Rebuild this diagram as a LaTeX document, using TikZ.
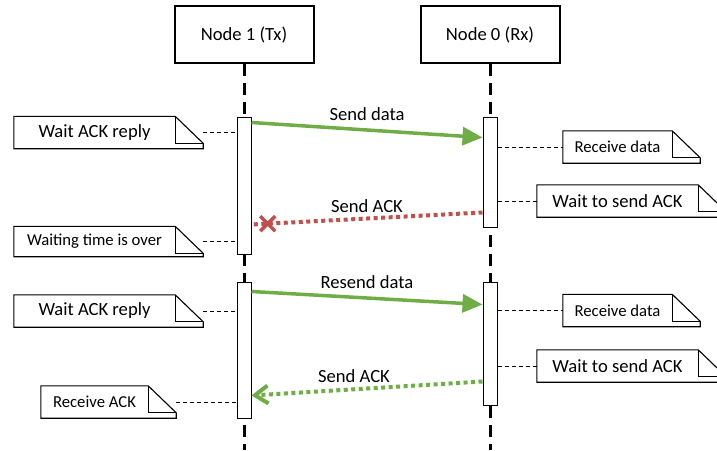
\documentclass[tikz,border=0pt]{standalone}
\usepackage{fontspec}
\setmainfont{Carlito}
\usetikzlibrary{arrows.meta, calc}
\definecolor{okgreen}{RGB}{112,173,71}
\definecolor{lostred}{RGB}{192,80,77}
\newcommand{\bigtxt}{\fontsize{18.6}{22}\selectfont}
\newcommand{\smalltxt}{\fontsize{16.7}{20}\selectfont}
\begin{document}
\begin{tikzpicture}[x=1pt, y=-1pt,
actor/.style={draw, line width=2, minimum width=139, minimum height=57, font=\bigtxt},
bar/.style={draw, fill=white, line width=1, minimum width=14, inner sep=0},
note/.style={inner sep=0, minimum height=32, font=\bigtxt},
lifeline/.style={line width=3, dash pattern=on 12pt off 7pt},
link/.style={line width=0.9, dash pattern=on 4pt off 3pt},
msg/.style={line width=3.5},
dots/.style={line width=4, dash pattern=on 4pt off 3.5pt}]
\useasboundingbox (0,0) rectangle (717,450);
\node[actor] (tx) at (244,34.5) {Node 1 (Tx)};
\node[actor] (rx) at (490,34.5) {Node 0 (Rx)};
\coordinate (txend) at (244,450);
\coordinate (rxend) at (490,450);
\draw[lifeline] (tx.south)--(txend);
\draw[lifeline] (rx.south)--(rxend);
\node[bar, minimum height=137] (tx1) at (244,185.5) {};
\node[bar, minimum height=110] (rx1) at (490,172) {};
\node[bar, minimum height=136] (tx2) at (244,350) {};
\node[bar, minimum height=123] (rx2) at (490,343.5) {};
\node[note, minimum width=161] (wait1) at (94.5,132.5) {Wait ACK reply};
\node[note, minimum width=161, minimum height=30, font=\smalltxt] (over) at (94.5,241.5) {Waiting time is over};
\node[note, minimum width=161] (wait2) at (94.5,311) {Wait ACK reply};
\node[note, minimum width=107, font=\smalltxt] (rack) at (94.5,402) {Receive ACK};
\node[note, minimum width=109, font=\smalltxt] (recv1) at (617.5,147) {Receive data};
\node[note, minimum width=161] (wsend1) at (617.5,201) {Wait to send ACK};
\node[note, minimum width=109, font=\smalltxt] (recv2) at (617.5,310.5) {Receive data};
\node[note, minimum width=161] (wsend2) at (617.5,366) {Wait to send ACK};
\foreach \n in {wait1,over,wait2,rack,recv1,wsend1,recv2,wsend2}{
\draw[line width=1.1] (\n.south west) |- (\n.north east) -- ++(28,27) |- (\n.south west) -- cycle;
\draw[line width=1.1] (\n.north east) -- ++(0,27) -- ++(28,0);
}
\foreach \n/\b in {wait1/tx1, over/tx1, wait2/tx2, rack/tx2} \draw[link] ([xshift=28]\n.east)--(\n.east -| \b.west);
\foreach \n/\b in {recv1/rx1, wsend1/rx1, recv2/rx2, wsend2/rx2} \draw[link] (\n.west -| \b.east)--(\n.west);
\draw[msg, okgreen, -{Triangle[length=20pt, width=18pt]}] ([yshift=-6]tx1.north east)--([yshift=-21]rx1.north west)
node[midway, above=4, black, font=\bigtxt] (send1) {Send data};
\draw[dots, lostred] ([yshift=-96]rx1.north west)--([yshift=-108]tx1.north east)
node[midway, above=1, black, font=\bigtxt] (ack1) {Send ACK} coordinate[pos=0.93] (lost);
\draw[lostred, line width=3.5] ($(lost)+(-7.5,-7.5)$)--($(lost)+(7.5,7.5)$) ($(lost)+(-7.5,7.5)$)--($(lost)+(7.5,-7.5)$);
\draw[msg, okgreen, -{Triangle[length=20pt, width=18pt]}] ([yshift=-10]tx2.north east)--([yshift=-23]rx2.north west)
node[midway, above=4, black, font=\bigtxt] (send2) {Resend data};
\draw[dots, okgreen, -{Straight Barb[length=13pt, width=18pt]}] ([yshift=-100]rx2.north west)--([yshift=-114]tx2.north east)
node[midway, above=1, xshift=-13, black, font=\bigtxt] (ack2) {Send ACK};
\end{tikzpicture}
\end{document}
